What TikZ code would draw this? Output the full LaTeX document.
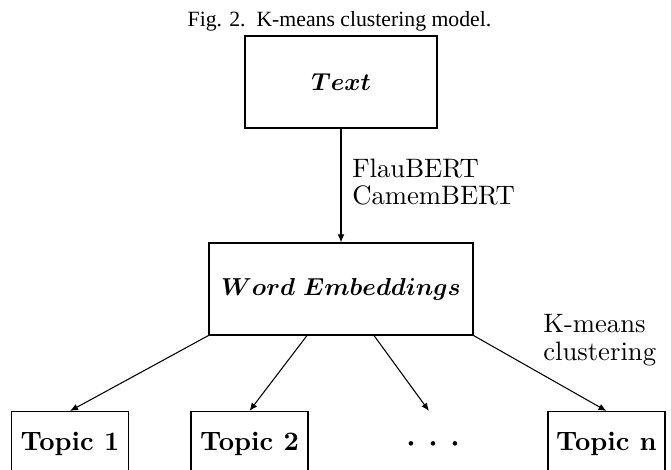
\documentclass[tikz,border=0pt]{standalone}
\usepackage{fix-cm}
\usepackage{amsmath}
\usepackage{fontspec}
\usetikzlibrary{arrows.meta}
\setmainfont{lmroman10-regular.otf}[BoldFont=lmroman10-bold.otf, ItalicFont=lmroman10-italic.otf]
\newfontfamily\capfont{Liberation Serif}
\begin{document}
\begin{tikzpicture}[x=0.75pt,y=-0.75pt,
  box/.style={draw, line width=0.8pt, inner sep=0pt},
  conn/.style={-{Latex[length=6pt,width=5pt]}, line width=0.8pt},
  bigfont/.style={font=\fontsize{20}{21}\selectfont},
  mathfont/.style={font=\fontsize{18.4}{20}\selectfont},
  lbl/.style={bigfont, inner sep=0pt, anchor=base west},
  topicbox/.style={box, minimum width=87.75pt, minimum height=48pt, font=\fontsize{20}{21}\selectfont\bfseries}]
\useasboundingbox (0,0) rectangle (671,470);
\node[font=\capfont\fontsize{16.3}{18}\selectfont, anchor=base, inner sep=0pt] (cap) at (339.5,27) {Fig. 2.\ \ K-means clustering model.};
\node[box, mathfont, minimum width=144pt, minimum height=69pt] (text) at (341,82) {$\boldsymbol{Text}$};
\node[box, mathfont, minimum width=198pt, minimum height=69pt] (we) at (341,289) {$\boldsymbol{Word\ Embeddings}$};
\node[lbl] (l1) at (352,178) {FlauBERT};
\node[lbl] (l2) at (352,205) {CamemBERT};
\node[lbl] (l3) at (543,333) {K-means};
\node[lbl] (l4) at (543,360) {clustering};
\node[topicbox] (t1) at (70,443.5) {Topic 1};
\node[topicbox] (t2) at (249.5,443.5) {Topic 2};
\node[topicbox] (tn) at (606.5,443.5) {Topic n};
\node[font=\fontsize{32}{34}\selectfont, anchor=base, inner sep=0pt] (dots) at (433.3,454) {$\cdot$\hspace{7.8pt}$\cdot$\hspace{7.8pt}$\cdot$};
\coordinate (dtop) at (429,411);
\draw[conn] (text.south) -- (we.north);
\draw[conn] (we.south west) -- (t1.north);
\draw[conn] ([xshift=-25.5pt]we.south) -- (t2.north);
\draw[conn] ([xshift=24.75pt]we.south) -- (dtop);
\draw[conn] (we.south east) -- (tn.north);
\end{tikzpicture}
\end{document}
